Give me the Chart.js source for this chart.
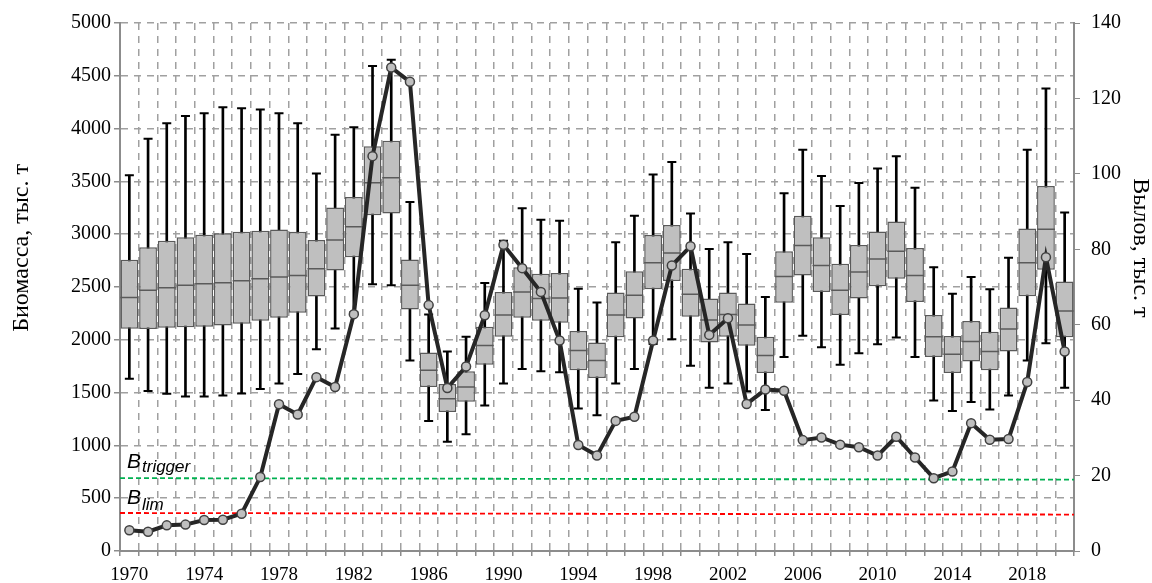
<!DOCTYPE html>
<html>
<head>
<meta charset="utf-8">
<script src="https://cdn.jsdelivr.net/npm/chart.js@4/dist/chart.umd.min.js"></script>
<style>
  html, body { margin: 0; padding: 0; background: #fff; }
  #wrap { width: 1152px; height: 583px; }
</style>
</head>
<body>
<div id="wrap"><canvas id="chart"></canvas></div>
<script>
// years 1970..2020
const years = [];
for (let y = 1970; y <= 2020; y++) years.push(String(y));

// biomass boxes, thousand t (left axis)
const bioMin = [1630, 1516, 1488, 1463, 1463, 1472, 1491, 1535, 1585, 1676,
  1910, 2108, 2260, 2525, 2516, 1805, 1231, 1034, 1106, 1378,
  1585, 1723, 1701, 1692, 1350, 1285, 1585, 1723, 1960, 2005,
  1754, 1545, 1585, 1513, 1335, 1836, 2039, 1930, 1764, 1873,
  1958, 2021, 1836, 1426, 1325, 1410, 1341, 1472, 1805, 1967, 1545];
const bioQ1 = [2105, 2102, 2115, 2118, 2124, 2136, 2152, 2180, 2209, 2256,
  2410, 2657, 2782, 3180, 3195, 2287, 1554, 1316, 1413, 1764,
  2030, 2209, 2180, 2162, 1711, 1638, 2024, 2202, 2478, 2556,
  2218, 1974, 2030, 1943, 1685, 2350, 2610, 2453, 2234, 2390,
  2506, 2578, 2359, 1836, 1685, 1795, 1711, 1889, 2412, 2663, 2024];
const bioMed = [2400, 2469, 2494, 2516, 2531, 2541, 2560, 2578, 2594, 2610,
  2672, 2945, 3070, 3487, 3534, 2516, 1711, 1441, 1554, 1945,
  2234, 2453, 2390, 2397, 1898, 1805, 2234, 2422, 2729, 2822,
  2431, 2187, 2240, 2140, 1852, 2600, 2892, 2704, 2469, 2641,
  2766, 2838, 2610, 2030, 1864, 1983, 1889, 2102, 2729, 3048, 2272];
const bioQ3 = [2757, 2876, 2939, 2970, 2995, 3008, 3023, 3033, 3045, 3023,
  2945, 3252, 3352, 3832, 3885, 2760, 1880, 1582, 1701, 2124,
  2453, 2688, 2625, 2632, 2084, 1974, 2447, 2650, 2992, 3086,
  2672, 2390, 2447, 2343, 2030, 2838, 3174, 2970, 2719, 2898,
  3026, 3120, 2870, 2234, 2037, 2177, 2077, 2306, 3055, 3456, 2553];
const bioMax = [3559, 3904, 4051, 4120, 4145, 4201, 4192, 4182, 4145, 4051,
  3575, 3941, 4013, 4592, 4652, 3305, 2240, 1889, 2030, 2538,
  2939, 3246, 3136, 3127, 2484, 2353, 2923, 3174, 3565, 3684,
  3195, 2860, 2923, 2813, 2406, 3387, 3800, 3550, 3268, 3484,
  3621, 3738, 3440, 2688, 2437, 2594, 2478, 2776, 3800, 4380, 3205];

// catch, thousand t (right axis)
const catchVals = [5.5, 5.1, 6.8, 7.0, 8.2, 8.3, 9.9, 19.6, 38.9, 36.2,
  46.1, 43.5, 62.8, 104.7, 128.2, 124.4, 65.2, 43.2, 48.9, 62.5,
  81.2, 75.0, 68.7, 55.8, 28.1, 25.3, 34.5, 35.6, 55.8, 75.7,
  80.8, 57.3, 61.7, 39.0, 42.8, 42.5, 29.4, 30.1, 28.2, 27.5,
  25.3, 30.3, 24.8, 19.3, 21.1, 33.9, 29.5, 29.7, 44.8, 77.9, 52.9];

// reference points (start, end), thousand t
const bTrigger = [690, 675];
const bLim = [360, 345];
const refNames = ['trigger', 'lim'];

const leftTitle = 'Биомасса, тыс. т';
const rightTitle = 'Вылов, тыс. т';

const serif = "'Liberation Serif', 'DejaVu Serif', serif";
const gridDash = [7, 6];

const ends = (arr) => [{ x: 0, y: arr[0] }, { x: years.length, y: arr[1] }];

// B_trigger / B_lim captions and the two axis titles
const captions = {
  id: 'captions',
  afterDatasetsDraw(chart) {
    const { ctx } = chart;
    const ys = chart.scales.y;
    const x0 = chart.chartArea.left + 7;
    const offs = [[10, 6], [9, 3]];
    [bTrigger, bLim].forEach((arr, i) => {
      const yy = ys.getPixelForValue(arr[0]);
      ctx.save();
      ctx.fillStyle = '#000';
      ctx.textBaseline = 'alphabetic';
      ctx.font = "italic 21px 'Liberation Sans', sans-serif";
      ctx.fillText('B', x0, yy - offs[i][0]);
      const w = ctx.measureText('B').width;
      ctx.font = "italic 17px 'Liberation Sans', sans-serif";
      ctx.fillText(refNames[i], x0 + w + 1, yy - offs[i][1]);
      ctx.restore();
    });

    const mid = ys.getPixelForValue(2870);
    ctx.save();
    ctx.fillStyle = '#000';
    ctx.font = `24px ${serif}`;
    ctx.textAlign = 'center';
    ctx.textBaseline = 'middle';
    ctx.translate(22, mid);
    ctx.rotate(-Math.PI / 2);
    ctx.fillText(leftTitle, 0, 0);
    ctx.restore();

    ctx.save();
    ctx.fillStyle = '#000';
    ctx.font = `24px ${serif}`;
    ctx.textAlign = 'center';
    ctx.textBaseline = 'middle';
    ctx.translate(chart.width - 12, mid);
    ctx.rotate(Math.PI / 2);
    ctx.fillText(rightTitle, 0, 0);
    ctx.restore();
  },
};

new Chart(document.getElementById('chart'), {
  data: {
    labels: years,
    datasets: [
      {
        type: 'bar',
        data: years.map((_, i) => [bioMin[i], bioMax[i]]),
        backgroundColor: '#000',
        barThickness: 2,
        grouped: false,
        order: 6,
      },
      {
        type: 'bar',
        data: years.map((_, i) => [bioQ1[i], bioQ3[i]]),
        backgroundColor: '#BFBFBF',
        borderColor: '#5A5A5A',
        borderWidth: 1.5,
        borderSkipped: false,
        barPercentage: 0.95,
        categoryPercentage: 1,
        grouped: false,
        order: 5,
      },
      {
        type: 'line',
        data: bioMed,
        showLine: false,
        pointStyle: 'line',
        pointRadius: 9,
        pointBorderColor: '#5A5A5A',
        pointBorderWidth: 1.5,
        order: 4,
      },
      {
        type: 'line',
        data: bioMax,
        showLine: false,
        pointStyle: 'line',
        pointRadius: 4.5,
        pointBorderColor: '#000',
        pointBorderWidth: 2,
        order: 3,
      },
      {
        type: 'line',
        data: bioMin,
        showLine: false,
        pointStyle: 'line',
        pointRadius: 4.5,
        pointBorderColor: '#000',
        pointBorderWidth: 2,
        order: 3,
      },
      {
        type: 'line',
        xAxisID: 'x2',
        data: ends(bTrigger),
        borderColor: '#00B050',
        borderWidth: 1.8,
        borderDash: [5, 3],
        pointRadius: 0,
        order: 2,
      },
      {
        type: 'line',
        xAxisID: 'x2',
        data: ends(bLim),
        borderColor: '#FF0000',
        borderWidth: 1.8,
        borderDash: [5, 3],
        pointRadius: 0,
        order: 2,
      },
      {
        type: 'line',
        yAxisID: 'y2',
        data: catchVals,
        borderColor: '#262626',
        borderWidth: 4,
        pointRadius: 4.5,
        pointBackgroundColor: '#BFBFBF',
        pointBorderColor: '#404040',
        pointBorderWidth: 1.5,
        tension: 0,
        order: 1,
      },
    ],
  },
  options: {
    responsive: true,
    maintainAspectRatio: false,
    animation: false,
    layout: { padding: { top: 19, left: 0, right: 0, bottom: 0 } },
    plugins: { legend: { display: false }, tooltip: { enabled: false } },
    scales: {
      x: {
        type: 'category',
        offset: true,
        grid: {
          offset: true,
          color: '#A0A0A0',
          lineWidth: 1.5,
          tickLength: 5,
          tickColor: '#8C8C8C',
          tickBorderDash: [],
        },
        border: { display: true, color: '#8C8C8C', width: 2, dash: gridDash },
        ticks: {
          autoSkip: false,
          maxRotation: 0,
          color: '#000',
          padding: 8,
          font: { family: serif, size: 19 },
          callback: (v, i) => (i % 4 === 0 ? years[i] : ''),
        },
        afterFit: (s) => { s.height = 32; },
      },
      x2: { type: 'linear', display: false, min: 0, max: years.length },
      y: {
        position: 'left',
        min: 0,
        max: 5000,
        ticks: {
          stepSize: 500,
          color: '#000',
          padding: 3,
          font: { family: serif, size: 20 },
          callback: (v) => String(v),
        },
        grid: {
          color: '#A0A0A0',
          lineWidth: 1.5,
          tickLength: 6,
          tickColor: '#8C8C8C',
          tickBorderDash: [],
        },
        border: { display: true, color: '#8C8C8C', width: 2, dash: gridDash },
        afterFit: (s) => { s.width = 120; },
      },
      y2: {
        position: 'right',
        min: 0,
        max: 140,
        ticks: {
          stepSize: 20,
          color: '#000',
          padding: 11,
          font: { family: serif, size: 20 },
          callback: (v) => String(v),
        },
        grid: {
          drawOnChartArea: false,
          tickLength: 6,
          tickColor: '#8C8C8C',
          tickBorderDash: [],
        },
        border: { display: true, color: '#8C8C8C', width: 2 },
        afterFit: (s) => { s.width = 78; },
      },
    },
  },
  plugins: [captions],
});
</script>
</body>
</html>
